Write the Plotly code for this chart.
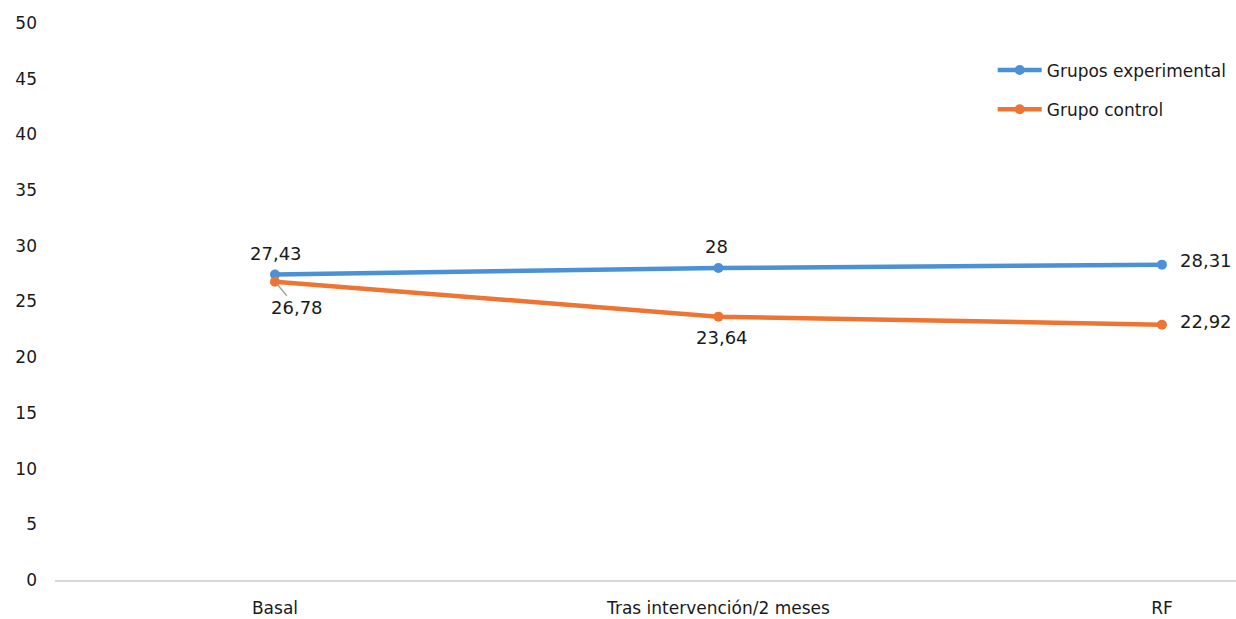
import plotly.graph_objects as go

# Categories and series
momentos = ["Basal", "Tras intervención/2 meses", "RF"]
experimental = [27.43, 28.00, 28.31]
control = [26.78, 23.64, 22.92]
etiquetas_exp = ["27,43", "28", "28,31"]
etiquetas_ctrl = ["26,78", "23,64", "22,92"]
y_ticks = [0, 5, 10, 15, 20, 25, 30, 35, 40, 45, 50]

AZUL = "#4A91D5"
NARANJA = "#EE7431"
FUENTE = "DejaVu Sans"
TEXTO = "#1a1a1a"

fig = go.Figure()
fig.add_trace(go.Scatter(
    x=momentos, y=experimental, name="Grupos experimental",
    mode="lines+markers", legendgroup="a",
    line=dict(color=AZUL, width=4.5), marker=dict(size=10, color=AZUL),
))
fig.add_trace(go.Scatter(
    x=momentos, y=control, name="Grupo control",
    mode="lines+markers", legendgroup="b",
    line=dict(color=NARANJA, width=4.5), marker=dict(size=10, color=NARANJA),
))

# Value labels: (xshift, yshift) per point
pos_exp = [(1, 21), (-2, 22), (44, 4)]
pos_ctrl = [(None, None), (4, -21), (44, 3)]
for i, (cat, val) in enumerate(zip(momentos, experimental)):
    dx, dy = pos_exp[i]
    fig.add_annotation(x=cat, y=val, text=etiquetas_exp[i], showarrow=False,
                       xshift=dx, yshift=dy, font=dict(family=FUENTE, size=18, color=TEXTO))
for i, (cat, val) in enumerate(zip(momentos, control)):
    if i == 0:
        # leader line from the point to its label
        fig.add_annotation(x=cat, y=val, text=etiquetas_ctrl[i], showarrow=True,
                           arrowhead=0, arrowwidth=1.5, arrowcolor="#a6a6a6",
                           ax=22, ay=26, standoff=4,
                           font=dict(family=FUENTE, size=18, color=TEXTO))
        continue
    dx, dy = pos_ctrl[i]
    fig.add_annotation(x=cat, y=val, text=etiquetas_ctrl[i], showarrow=False,
                       xshift=dx, yshift=dy, font=dict(family=FUENTE, size=18, color=TEXTO))

fig.update_layout(
    width=1236, height=619,
    margin=dict(l=55, r=0, t=23, b=39),
    plot_bgcolor="white", paper_bgcolor="white",
    font=dict(family=FUENTE, size=17, color=TEXTO),
    showlegend=True,
    legend=dict(x=0.794, y=0.947, xanchor="left", yanchor="top",
                traceorder="grouped", tracegroupgap=14, itemwidth=44,
                font=dict(family=FUENTE, size=17, color=TEXTO),
                bgcolor="rgba(0,0,0,0)"),
)
fig.update_xaxes(
    type="category", range=[-0.496, 2.167],
    showgrid=False, showline=True, linecolor="#d9d9d9", linewidth=2,
    ticks="", ticklabelstandoff=12,
    tickfont=dict(family=FUENTE, size=17, color=TEXTO),
    zeroline=False,
)
fig.update_yaxes(
    range=[0, 50], tickvals=y_ticks, ticktext=[str(v) for v in y_ticks],
    showgrid=False, showline=False, zeroline=False, ticks="",
    ticklabelstandoff=17, tickfont=dict(family=FUENTE, size=17, color=TEXTO),
)

fig.write_html("out.html")
